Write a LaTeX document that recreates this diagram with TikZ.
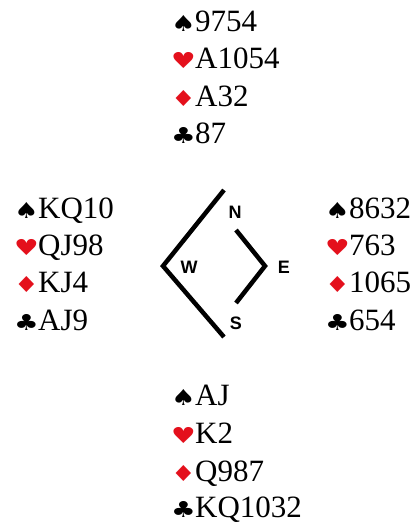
\documentclass[tikz,border=0pt]{standalone}
\usepackage{fontspec}
\setmainfont{Liberation Serif}
\newfontfamily\symf{DejaVu Sans}
\newfontfamily\lblf{Liberation Sans}
\definecolor{suitred}{RGB}{228,16,28}
\newcommand{\suitbox}[2]{\makebox[24pt][l]{\color{#1}\symf\fontsize{22}{22}\selectfont\scalebox{1.25}[1]{#2}}}
\newcommand{\Sp}{\suitbox{black}{♠}}
\newcommand{\He}{\suitbox{suitred}{♥}}
\newcommand{\Di}{\suitbox{suitred}{♦}}
\newcommand{\Cl}{\suitbox{black}{♣}}
\tikzset{
  handline/.style={anchor=base west, inner sep=0pt, font=\fontsize{31}{31}\selectfont},
  seat/.style={inner sep=0pt, font=\lblf\bfseries\fontsize{18}{18}\selectfont},
  compass/.style={line width=4.5pt, line cap=butt, line join=miter}
}
\begin{document}
\begin{tikzpicture}[x=1pt,y=-1pt]
\useasboundingbox[fill=white] (0,0) rectangle (415,523);
% North
\node[handline] (n1) at (171,31) {\Sp 9754};
\node[handline] (n2) at (171,68.5) {\He A1054};
\node[handline] (n3) at (171,106) {\Di A32};
\node[handline] (n4) at (171,143.5) {\Cl 87};
% West
\node[handline] (w1) at (14,218) {\Sp KQ10};
\node[handline] (w2) at (14,255) {\He QJ98};
\node[handline] (w3) at (14,292) {\Di KJ4};
\node[handline] (w4) at (14,330) {\Cl AJ9};
% East
\node[handline] (e1) at (325,218) {\Sp 8632};
\node[handline] (e2) at (325,255) {\He 763};
\node[handline] (e3) at (325,292) {\Di 1065};
\node[handline] (e4) at (325,330) {\Cl 654};
% South
\node[handline] (s1) at (171,405) {\Sp AJ};
\node[handline] (s2) at (171,443) {\He K2};
\node[handline] (s3) at (171,481) {\Di Q987};
\node[handline] (s4) at (171,517) {\Cl KQ1032};
% compass
\draw[compass] (224,190) -- (163,266) -- (224,337);
\draw[compass] (236,230) -- (265,266) -- (236,303);
\node[seat] (lN) at (235,212) {N};
\node[seat] (lW) at (189,267) {W};
\node[seat] (lE) at (284,267) {E};
\node[seat] (lS) at (236,323) {S};
\end{tikzpicture}
\end{document}
